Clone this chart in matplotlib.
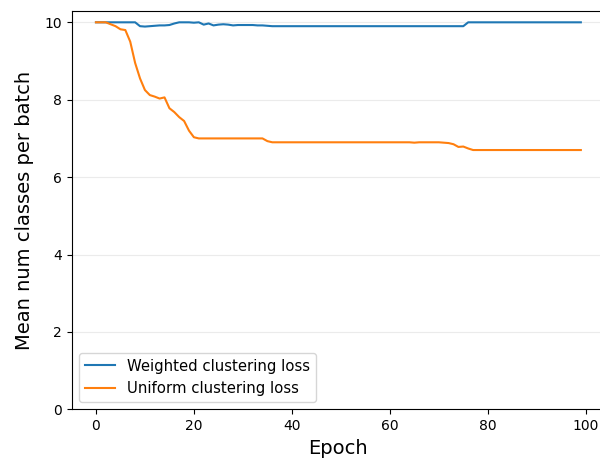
import numpy as np
import matplotlib
matplotlib.use("Agg")
import matplotlib.pyplot as plt

epochs = np.arange(100)

weighted = ([10.0] * 9
            + [9.9, 9.89, 9.9, 9.91, 9.92, 9.92, 9.93, 9.97, 10.0, 10.0, 10.0,
               9.99, 10.0, 9.94, 9.97, 9.92, 9.94, 9.95, 9.94, 9.92, 9.93,
               9.93, 9.93, 9.93, 9.92, 9.92, 9.91]
            + [9.9] * 40
            + [10.0] * 24)

uniform = ([10.0, 10.0, 10.0, 9.95, 9.9, 9.82, 9.8, 9.5, 8.95, 8.55,
            8.25, 8.12, 8.08, 8.03, 8.06, 7.78, 7.68, 7.55, 7.45, 7.2, 7.03]
           + [7.0] * 14
           + [6.93]
           + [6.9] * 29
           + [6.89, 6.9, 6.9, 6.9, 6.9, 6.9, 6.89, 6.88, 6.85, 6.78, 6.79, 6.74]
           + [6.7] * 23)

fig = plt.figure(figsize=(6, 4.62), dpi=100)
ax = fig.add_axes([0.1195, 0.114, 0.889, 0.862])

ax.plot(epochs, weighted, color="#1f77b4", lw=1.5, label="Weighted clustering loss")
ax.plot(epochs, uniform, color="#ff7f0e", lw=1.5, label="Uniform clustering loss")

ax.set_xlim(-4.95, 103.95)
ax.set_ylim(0, 10.29)
ax.set_xticks([0, 20, 40, 60, 80, 100])
ax.set_yticks([0, 2, 4, 6, 8, 10])
ax.yaxis.grid(True, color="#ebebeb", lw=0.8)
ax.set_axisbelow(True)

ax.set_xlabel("Epoch", fontsize=14)
ax.set_ylabel("Mean num classes per batch", fontsize=14, labelpad=7.5)
ax.legend(loc="lower left", fontsize=10.7)

fig.savefig("out.png", dpi=100)
